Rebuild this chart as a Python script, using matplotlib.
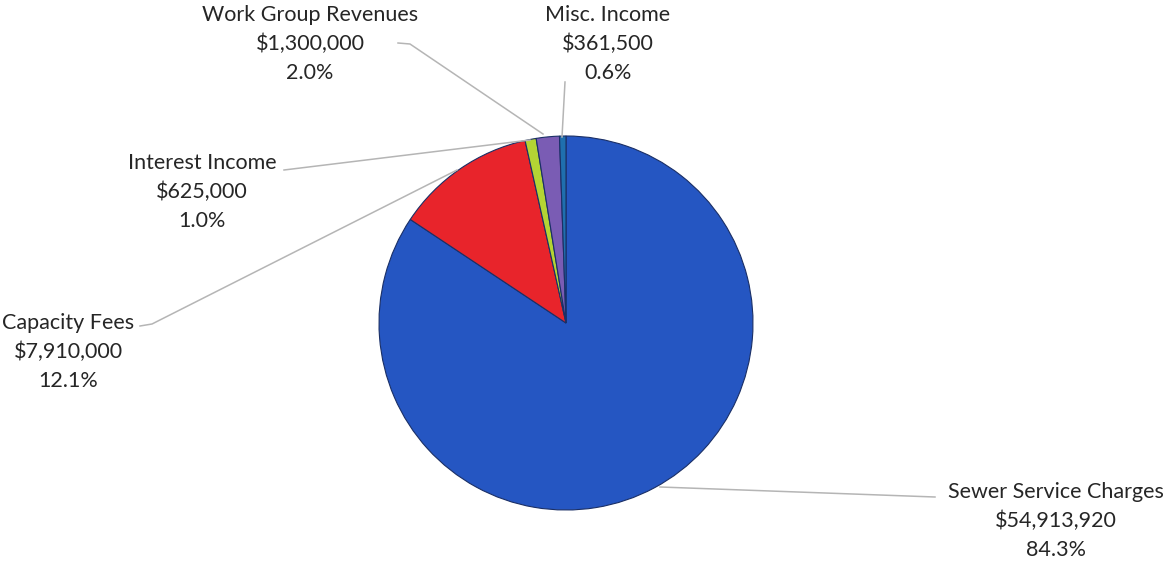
import matplotlib.pyplot as plt

# revenue sources (clockwise from 12 o'clock)
categories = ["Sewer Service Charges", "Capacity Fees", "Interest Income",
              "Work Group Revenues", "Misc. Income"]
amounts = [54913920, 7910000, 625000, 1300000, 361500]
colors = ["#2556c2", "#e8242b", "#b4d434", "#7a5cb4", "#1f6fae"]

W, H = 1166, 563
plt.rcParams["font.family"] = ["Lato", "DejaVu Sans"]

fig = plt.figure(figsize=(W / 100, H / 100), dpi=100)
ax = fig.add_axes([0, 0, 1, 1])

cx, cy, r = 566, H - 323, 187
ax.pie(amounts, colors=colors, startangle=90, counterclock=False,
       center=(cx, cy), radius=r, frame=True,
       wedgeprops=dict(edgecolor="#1a2f66", linewidth=0.8))
ax.set_xlim(0, W)
ax.set_ylim(0, H)
ax.set_aspect("equal")
ax.axis("off")

total = sum(amounts)

# label block centre and leader line points, in pixels from top-left
label_pos = {
    "Sewer Service Charges": (1056, 521),
    "Capacity Fees": (68, 352),
    "Interest Income": (202, 192),
    "Work Group Revenues": (310, 44),
    "Misc. Income": (608, 44),
}
leaders = {
    "Sewer Service Charges": [(660, 487), (935, 497)],
    "Capacity Fees": [(140, 326), (152, 324), (457, 170)],
    "Interest Income": [(284, 170), (530, 140)],
    "Work Group Revenues": [(398, 43), (410, 44), (543, 134)],
    "Misc. Income": [(565, 82), (562, 137)],
}

for name, amt in zip(categories, amounts):
    x, y = label_pos[name]
    text = f"{name}\n${amt:,.0f}\n{amt / total * 100:.1f}%"
    ax.text(x, H - y, text, ha="center", va="center", fontsize=15.5,
            color="#262626", linespacing=1.55, zorder=5)
    pts = leaders[name]
    ax.plot([p[0] for p in pts], [H - p[1] for p in pts],
            color="#b5b5b5", linewidth=1.1, zorder=1)

fig.savefig("out.png", dpi=100, facecolor="white")
